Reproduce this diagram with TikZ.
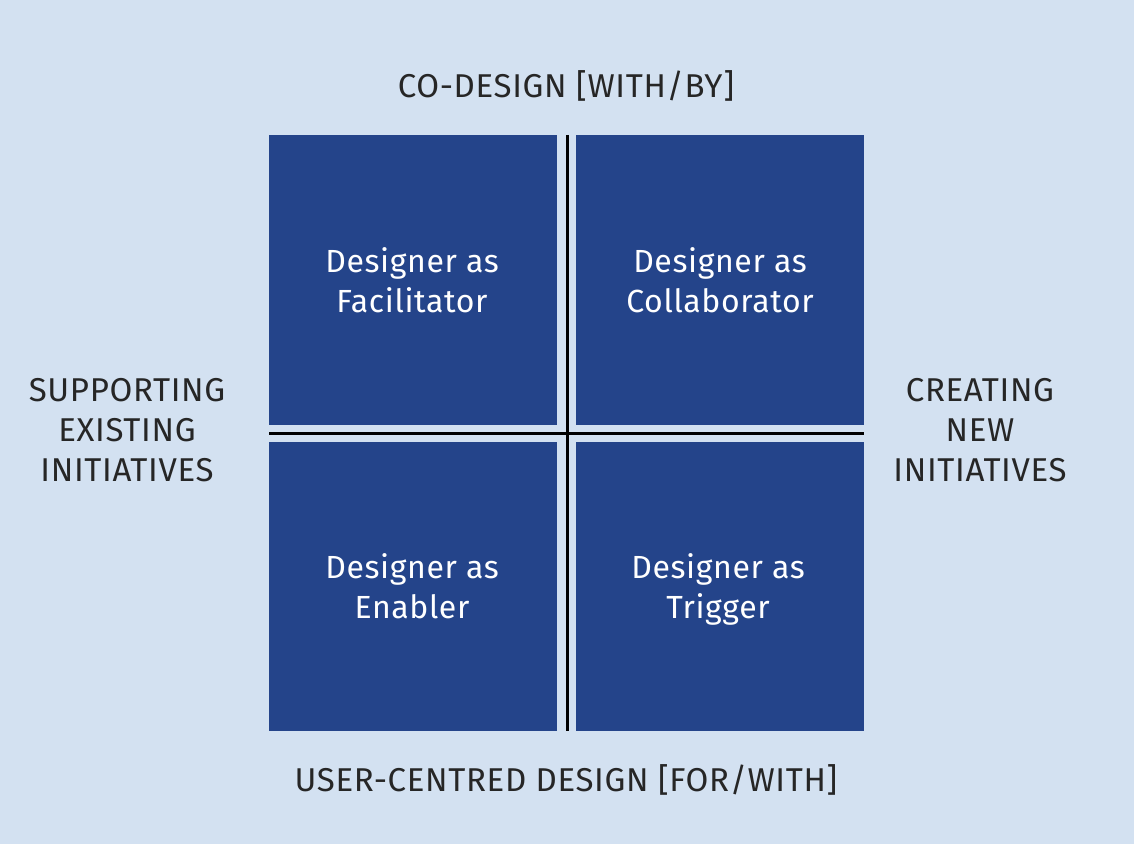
\documentclass[tikz,border=0pt]{standalone}
\usepackage{fontspec}
\setmainfont[LetterSpace=2]{Fira Sans}
\definecolor{bg}{HTML}{D3E1F1}
\definecolor{quad}{HTML}{24448A}
\begin{document}
\begin{tikzpicture}[x=1pt,y=1pt,
  quadbox/.style={fill=quad,draw=none},
  quadtext/.style={text=white,font=\fontsize{32}{40}\selectfont,align=center},
  axislabel/.style={text=black!85,font=\fontsize{33}{40}\selectfont,align=center}]
\fill[bg] (0,0) rectangle (1134,844);
\useasboundingbox (0,0) rectangle (1134,844);
\fill[quadbox] (269,419) rectangle (557,709);
\fill[quadbox] (576,419) rectangle (864,709);
\fill[quadbox] (269,113) rectangle (557,402);
\fill[quadbox] (576,113) rectangle (864,402);
\coordinate (vt) at (567,709);
\coordinate (vb) at (567,113);
\coordinate (hl) at (269,410);
\coordinate (hr) at (864,410);
\draw[black,line width=3] (vt) -- (vb);
\draw[black,line width=3] (hl) -- (hr);
\node[quadtext] (fac) at (412,564) {Designer as\\Facilitator};
\node[quadtext] (col) at (720,564) {Designer as\\Collaborator};
\node[quadtext] (ena) at (412,258) {Designer as\\Enabler};
\node[quadtext] (tri) at (718,255) {Designer as\\Trigger};
\node[axislabel] (top) at (566,758) {CO-DESIGN [WITH/BY]};
\node[axislabel] (bot) at (566,64) {USER-CENTRED DESIGN [FOR/WITH]};
\node[axislabel] (lft) at (127,414) {SUPPORTING\\EXISTING\\INITIATIVES};
\node[axislabel] (rgt) at (980,414) {CREATING\\NEW\\INITIATIVES};
\end{tikzpicture}
\end{document}
